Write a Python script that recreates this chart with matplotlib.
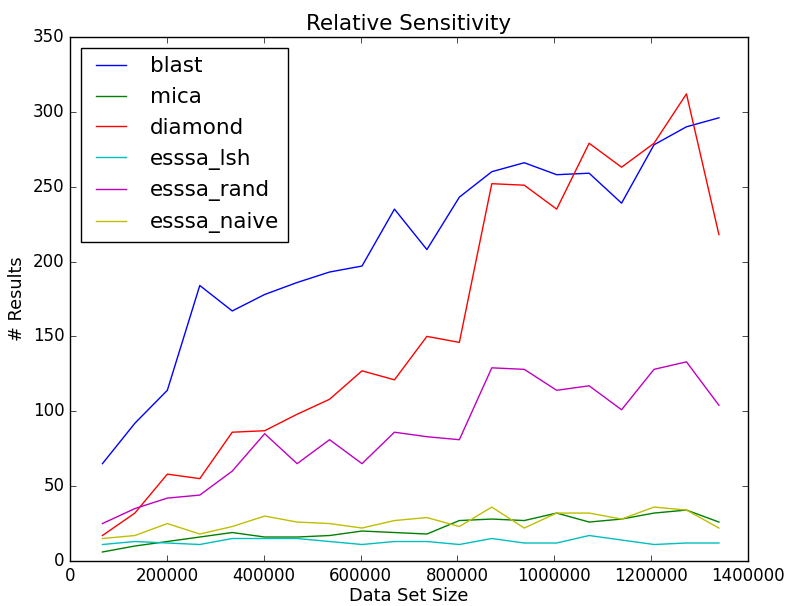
import matplotlib
matplotlib.use('Agg')
import matplotlib.pyplot as plt
import numpy as np

# data set sizes (20 runs)
sizes = [67000 * k for k in range(1, 21)]

blast = [65, 92, 114, 184, 167, 178, 186, 193, 197, 235,
         208, 243, 260, 266, 258, 259, 239, 278, 290, 296]
mica = [6, 10, 13, 16, 19, 16, 16, 17, 20, 19,
        18, 27, 28, 27, 32, 26, 28, 32, 34, 26]
diamond = [17, 32, 58, 55, 86, 87, 98, 108, 127, 121,
           150, 146, 252, 251, 235, 279, 263, 279, 312, 218]
esssa_lsh = [11, 13, 12, 11, 15, 15, 15, 13, 11, 13,
             13, 11, 15, 12, 12, 17, 14, 11, 12, 12]
esssa_rand = [25, 35, 42, 44, 60, 85, 65, 81, 65, 86,
              83, 81, 129, 128, 114, 117, 101, 128, 133, 104]
esssa_naive = [15, 17, 25, 18, 23, 30, 26, 25, 22, 27,
               29, 23, 36, 22, 32, 32, 28, 36, 34, 22]

series = [
    ('blast', blast, 'b'),
    ('mica', mica, 'g'),
    ('diamond', diamond, 'r'),
    ('esssa_lsh', esssa_lsh, 'c'),
    ('esssa_rand', esssa_rand, 'm'),
    ('esssa_naive', esssa_naive, 'y'),
]

plt.style.use('classic')
fig = plt.figure(figsize=(7.9, 6.06), dpi=100, facecolor='white')
ax = fig.add_axes([0.0886, 0.0743, 0.8582, 0.8647])

for name, vals, col in series:
    ax.plot(sizes, vals, color=col, label=name, linewidth=1.0)

ax.set_xlim(0, 1400000)
ax.set_ylim(0, 350)
ax.set_xticks(np.arange(0, 1400001, 200000))
ax.set_yticks(np.arange(0, 351, 50))
ax.ticklabel_format(style='plain', axis='x', useOffset=False)
ax.set_title('Relative Sensitivity', fontsize=15.5)
ax.set_xlabel('Data Set Size', fontsize=12.8, labelpad=2)
ax.set_ylabel('# Results', fontsize=12.8)
ax.tick_params(labelsize=12)

ax.legend(loc='upper left', fontsize=15.5, handlelength=2.0, numpoints=2)

fig.savefig('out.png', dpi=100, facecolor='white')
